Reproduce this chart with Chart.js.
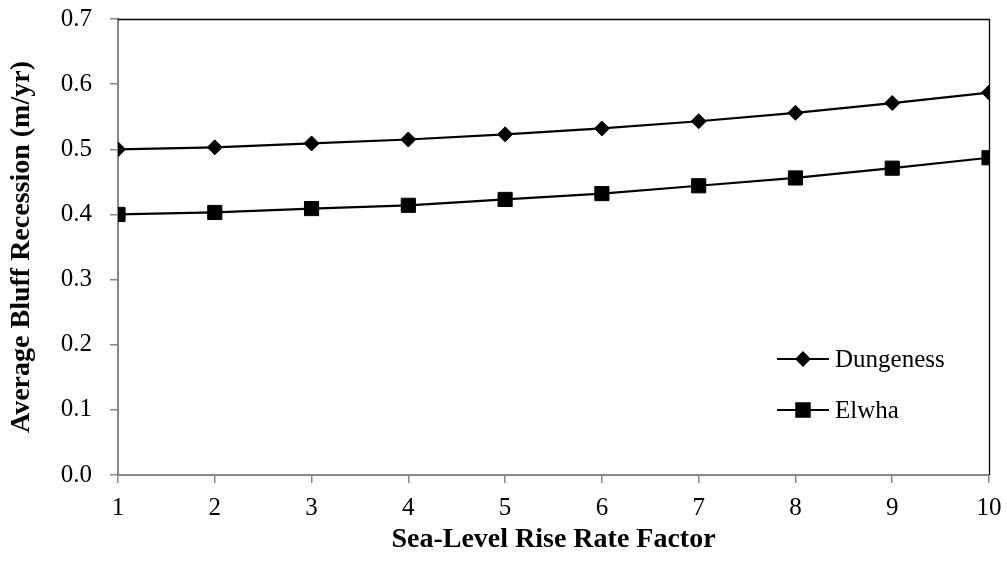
<!DOCTYPE html>
<html>
<head>
<meta charset="utf-8">
<script src="https://cdn.jsdelivr.net/npm/chart.js@4/dist/chart.umd.min.js"></script>
<style>
  html, body { margin: 0; padding: 0; background: #fff; }
</style>
</head>
<body>
<canvas id="chart" width="1007" height="563"></canvas>
<script>
var factors = [1, 2, 3, 4, 5, 6, 7, 8, 9, 10];
var dungeness = [0.500, 0.503, 0.509, 0.515, 0.523, 0.532, 0.543, 0.556, 0.571, 0.587];
var elwha = [0.400, 0.403, 0.409, 0.414, 0.423, 0.432, 0.444, 0.456, 0.471, 0.487];
var seriesNames = ['Dungeness', 'Elwha'];
var seriesMarkers = ['rectRot', 'rect'];

var serif = '"Liberation Serif", "Times New Roman", serif';
var axisGrey = '#878787';

function points(values) {
    return factors.map(function(f, i) { return { x: f, y: values[i] }; });
}

// black frame on top and right of the plot, plus legend inside the plot
var frameAndLegend = {
    id: 'frameAndLegend',
    afterDraw: function(chart) {
        var ctx = chart.ctx;
        var a = chart.chartArea;
        ctx.save();
        ctx.strokeStyle = '#000';
        ctx.lineWidth = 1.3;
        ctx.beginPath();
        ctx.moveTo(a.left, a.top + 0.5);
        ctx.lineTo(a.right + 0.5, a.top + 0.5);
        ctx.lineTo(a.right + 0.5, a.bottom);
        ctx.stroke();

        var rows = [359, 410];
        chart.data.datasets.forEach(function(ds, i) {
            var y = rows[i];
            ctx.strokeStyle = '#000';
            ctx.lineWidth = 2;
            ctx.beginPath();
            ctx.moveTo(777, y);
            ctx.lineTo(829, y);
            ctx.stroke();
            ctx.fillStyle = '#000';
            Chart.helpers.drawPoint(ctx, {
                pointStyle: ds.pointStyle,
                radius: i === 0 ? 6.5 : 9.5,
                borderWidth: 1
            }, 803, y);
            ctx.fill();
            ctx.font = '25px ' + serif;
            ctx.textBaseline = 'middle';
            ctx.textAlign = 'left';
            ctx.fillText(ds.label, 835, y + 1);
        });
        ctx.restore();
    }
};

var ctx = document.getElementById('chart').getContext('2d');
var chart = new Chart(ctx, {
    type: 'line',
    data: {
        datasets: [{
            label: seriesNames[0],
            data: points(dungeness),
            borderColor: '#000',
            backgroundColor: '#000',
            borderWidth: 2.2,
            pointStyle: seriesMarkers[0],
            pointRadius: 7.5,
            pointBorderWidth: 1,
            tension: 0
        }, {
            label: seriesNames[1],
            data: points(elwha),
            borderColor: '#000',
            backgroundColor: '#000',
            borderWidth: 2.2,
            pointStyle: seriesMarkers[1],
            pointRadius: 10,
            pointBorderWidth: 1,
            tension: 0
        }]
    },
    options: {
        responsive: false,
        devicePixelRatio: 1,
        animation: false,
        layout: { padding: { top: 19, right: 18, left: 0, bottom: 0 } },
        plugins: {
            legend: { display: false },
            tooltip: { enabled: false }
        },
        scales: {
            x: {
                type: 'linear',
                min: 1,
                max: 10,
                ticks: {
                    stepSize: 1,
                    color: '#000',
                    padding: 10,
                    font: { family: serif, size: 25 }
                },
                grid: { drawOnChartArea: false, color: axisGrey, tickLength: 8, lineWidth: 1.5 },
                border: { color: axisGrey, width: 2 },
                title: {
                    display: true,
                    text: 'Sea-Level Rise Rate Factor',
                    color: '#000',
                    font: { family: serif, size: 28, weight: 'bold' },
                    padding: { top: 0, bottom: 6 }
                },
                afterFit: function(scale) {
                    scale.height = 88;
                    scale.paddingLeft = 0;
                    scale.paddingRight = 0;
                }
            },
            y: {
                min: 0,
                max: 0.7,
                ticks: {
                    stepSize: 0.1,
                    color: '#000',
                    padding: 18,
                    font: { family: serif, size: 25 },
                    callback: function(v) { return v.toFixed(1); }
                },
                grid: { drawOnChartArea: false, color: axisGrey, tickLength: 8, lineWidth: 1.5 },
                border: { color: axisGrey, width: 2 },
                title: {
                    display: true,
                    text: 'Average Bluff Recession (m/yr)',
                    color: '#000',
                    font: { family: serif, size: 28, weight: 'bold' },
                    padding: { top: 5, bottom: 0 }
                },
                afterFit: function(scale) {
                    scale.width = 118;
                    scale.paddingTop = 0;
                    scale.paddingBottom = 0;
                }
            }
        }
    },
    plugins: [frameAndLegend]
});
</script>
</body>
</html>
